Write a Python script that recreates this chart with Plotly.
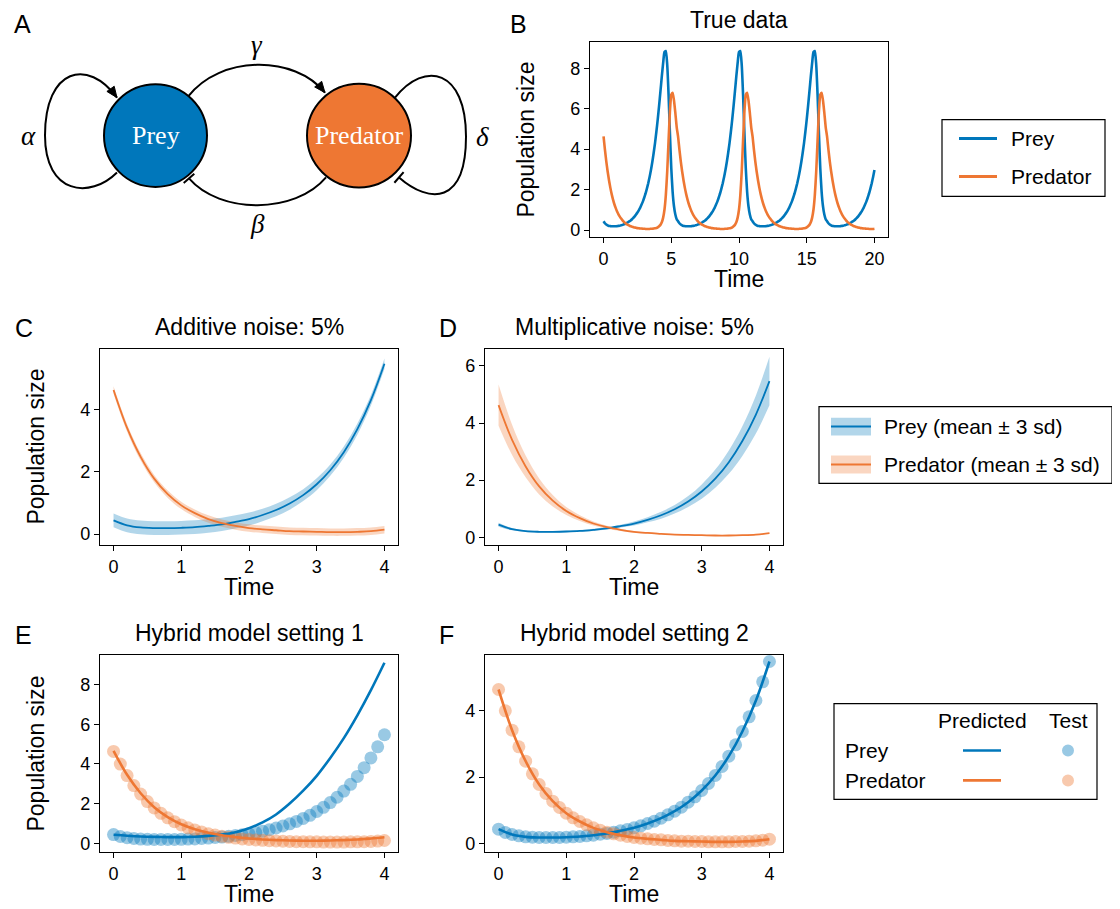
import plotly.graph_objects as go

# page body has an 8px margin: the figure is shifted so that reference pixels map 1:1
OFF = 8
W, H = 1120 - OFF, 909 - OFF
BLUE = "#0077BB"
ORANGE = "#EE7733"
BLUE_BAND = "rgba(0,119,187,0.30)"
ORANGE_BAND = "rgba(238,119,51,0.30)"
BLUE_DOT = "rgba(0,119,187,0.40)"
ORANGE_DOT = "rgba(238,119,51,0.40)"
FONT = "Liberation Sans, Arial, sans-serif"
SERIF = "Liberation Serif, DejaVu Serif, serif"

# ---------------- data ----------------
# Panel B: true data, t = 0 .. 20 step 0.1
time_b = [round(0.1 * i, 1) for i in range(201)]
prey_b = [
    0.44, 0.34, 0.28, 0.24, 0.21, 0.20, 0.19, 0.19, 0.19, 0.19, 0.20, 0.21, 0.22, 0.24, 0.26, 0.29, 0.31, 0.35, 0.39, 0.43,
    0.48, 0.54, 0.61, 0.68, 0.77, 0.87, 0.98, 1.10, 1.25, 1.41, 1.60, 1.81, 2.05, 2.32, 2.63, 2.97, 3.37, 3.81, 4.30, 4.86,
    5.47, 6.14, 6.85, 7.58, 8.26, 8.80, 8.85, 8.18, 6.70, 4.78, 3.07, 1.89, 1.18, 0.77, 0.54,
    0.44, 0.34, 0.28, 0.24, 0.21, 0.20, 0.19, 0.19, 0.19, 0.19, 0.20, 0.21, 0.22, 0.24, 0.26, 0.29, 0.31, 0.35, 0.39, 0.43,
    0.48, 0.54, 0.61, 0.68, 0.77, 0.87, 0.98, 1.10, 1.25, 1.41, 1.60, 1.81, 2.05, 2.32, 2.63, 2.97, 3.37, 3.81, 4.30, 4.86,
    5.47, 6.14, 6.85, 7.58, 8.26, 8.80, 8.85, 8.18, 6.70, 4.78, 3.07, 1.89, 1.18, 0.77, 0.54,
    0.44, 0.34, 0.28, 0.24, 0.21, 0.20, 0.19, 0.19, 0.19, 0.19, 0.20, 0.21, 0.22, 0.24, 0.26, 0.29, 0.31, 0.35, 0.39, 0.43,
    0.48, 0.54, 0.61, 0.68, 0.77, 0.87, 0.98, 1.10, 1.25, 1.41, 1.60, 1.81, 2.05, 2.32, 2.63, 2.97, 3.37, 3.81, 4.30, 4.86,
    5.47, 6.14, 6.85, 7.58, 8.26, 8.80, 8.85, 8.18, 6.70, 4.78, 3.07, 1.89, 1.18, 0.77, 0.54,
    0.44, 0.34, 0.28, 0.24, 0.21, 0.20, 0.19, 0.19, 0.19, 0.19, 0.20, 0.21, 0.22, 0.24, 0.26, 0.29, 0.31, 0.35, 0.39, 0.43,
    0.48, 0.54, 0.61, 0.68, 0.77, 0.87, 0.98, 1.10, 1.25, 1.41, 1.60, 1.81, 2.05, 2.32, 2.63, 2.97,
]
pred_b = [
    4.63, 3.99, 3.41, 2.91, 2.48, 2.10, 1.78, 1.51, 1.28, 1.09, 0.92, 0.78, 0.67, 0.57, 0.48, 0.41, 0.35, 0.30, 0.26, 0.22,
    0.19, 0.17, 0.15, 0.13, 0.12, 0.10, 0.09, 0.08, 0.08, 0.07, 0.07, 0.06, 0.06, 0.06, 0.06, 0.07, 0.07, 0.08, 0.09, 0.11,
    0.14, 0.19, 0.26, 0.39, 0.62, 1.02, 1.74, 2.89, 4.41, 5.86, 6.69, 6.79, 6.41, 5.79, 5.09,
    4.63, 3.99, 3.41, 2.91, 2.48, 2.10, 1.78, 1.51, 1.28, 1.09, 0.92, 0.78, 0.67, 0.57, 0.48, 0.41, 0.35, 0.30, 0.26, 0.22,
    0.19, 0.17, 0.15, 0.13, 0.12, 0.10, 0.09, 0.08, 0.08, 0.07, 0.07, 0.06, 0.06, 0.06, 0.06, 0.07, 0.07, 0.08, 0.09, 0.11,
    0.14, 0.19, 0.26, 0.39, 0.62, 1.02, 1.74, 2.89, 4.41, 5.86, 6.69, 6.79, 6.41, 5.79, 5.09,
    4.63, 3.99, 3.41, 2.91, 2.48, 2.10, 1.78, 1.51, 1.28, 1.09, 0.92, 0.78, 0.67, 0.57, 0.48, 0.41, 0.35, 0.30, 0.26, 0.22,
    0.19, 0.17, 0.15, 0.13, 0.12, 0.10, 0.09, 0.08, 0.08, 0.07, 0.07, 0.06, 0.06, 0.06, 0.06, 0.07, 0.07, 0.08, 0.09, 0.11,
    0.14, 0.19, 0.26, 0.39, 0.62, 1.02, 1.74, 2.89, 4.41, 5.86, 6.69, 6.79, 6.41, 5.79, 5.09,
    4.63, 3.99, 3.41, 2.91, 2.48, 2.10, 1.78, 1.51, 1.28, 1.09, 0.92, 0.78, 0.67, 0.57, 0.48, 0.41, 0.35, 0.30, 0.26, 0.22,
    0.19, 0.17, 0.15, 0.13, 0.12, 0.10, 0.09, 0.08, 0.08, 0.07, 0.07, 0.06, 0.06, 0.06, 0.06, 0.07,
]

# Panels C, D: mean curves on t = 0 .. 4 step 0.2
time_cd = [round(0.2 * i, 1) for i in range(21)]
prey_mean = [0.44, 0.28, 0.21, 0.19, 0.19, 0.20, 0.22, 0.26, 0.31, 0.39, 0.48,
             0.61, 0.77, 0.98, 1.25, 1.60, 2.05, 2.63, 3.37, 4.30, 5.47]
pred_mean = [4.63, 3.41, 2.48, 1.78, 1.28, 0.92, 0.67, 0.48, 0.35, 0.26, 0.19,
             0.15, 0.12, 0.09, 0.08, 0.07, 0.06, 0.06, 0.07, 0.09, 0.14]
# half widths of the +-3 sd bands
prey_3sd_add = [0.22, 0.22, 0.22, 0.22, 0.22, 0.22, 0.22, 0.22, 0.21, 0.21, 0.21,
                0.20, 0.20, 0.20, 0.19, 0.19, 0.18, 0.18, 0.18, 0.17, 0.17]
pred_3sd_add = [0.12, 0.12, 0.12, 0.12, 0.12, 0.12, 0.12, 0.12, 0.12, 0.12, 0.12,
                0.12, 0.12, 0.12, 0.12, 0.12, 0.12, 0.12, 0.12, 0.12, 0.12]
prey_3sd_mul = [0.07, 0.04, 0.03, 0.03, 0.03, 0.03, 0.03, 0.04, 0.04, 0.05, 0.07,
                0.09, 0.12, 0.15, 0.19, 0.25, 0.32, 0.41, 0.52, 0.67, 0.85]
pred_3sd_mul = [0.72, 0.53, 0.38, 0.28, 0.20, 0.14, 0.10, 0.07, 0.05, 0.04, 0.03,
                0.02, 0.02, 0.01, 0.01, 0.01, 0.01, 0.01, 0.01, 0.01, 0.02]

# Panels E, F: test points (t = 0 .. 4 step 0.1) and predictions (step 0.2)
time_test = [round(0.1 * i, 1) for i in range(41)]
prey_test = [0.44, 0.34, 0.28, 0.24, 0.21, 0.20, 0.19, 0.19, 0.19, 0.19, 0.20,
             0.21, 0.22, 0.24, 0.26, 0.29, 0.31, 0.35, 0.39, 0.43, 0.48,
             0.54, 0.61, 0.68, 0.77, 0.87, 0.98, 1.10, 1.25, 1.41, 1.60,
             1.81, 2.05, 2.32, 2.63, 2.97, 3.37, 3.81, 4.30, 4.86, 5.47]
pred_test = [4.63, 3.99, 3.41, 2.91, 2.48, 2.10, 1.78, 1.51, 1.28, 1.09, 0.92,
             0.78, 0.67, 0.57, 0.48, 0.41, 0.35, 0.30, 0.26, 0.22, 0.19,
             0.17, 0.15, 0.13, 0.12, 0.10, 0.09, 0.08, 0.08, 0.07, 0.07,
             0.06, 0.06, 0.06, 0.06, 0.07, 0.07, 0.08, 0.09, 0.11, 0.14]
time_pred = [round(0.2 * i, 1) for i in range(21)]
prey_pred_e = [0.43, 0.38, 0.34, 0.32, 0.31, 0.31, 0.33, 0.37, 0.44, 0.56, 0.76,
               1.05, 1.45, 2.00, 2.65, 3.40, 4.30, 5.30, 6.45, 7.72, 9.10]
pred_pred_e = [4.66, 3.45, 2.52, 1.82, 1.32, 0.96, 0.71, 0.53, 0.40, 0.31, 0.24,
               0.19, 0.16, 0.14, 0.13, 0.13, 0.14, 0.16, 0.19, 0.24, 0.30]
prey_pred_f = [0.44, 0.28, 0.21, 0.19, 0.19, 0.20, 0.22, 0.26, 0.31, 0.39, 0.48,
               0.61, 0.77, 0.98, 1.25, 1.60, 2.05, 2.63, 3.37, 4.30, 5.47]
pred_pred_f = [4.63, 3.41, 2.48, 1.78, 1.28, 0.92, 0.67, 0.48, 0.35, 0.26, 0.19,
               0.15, 0.12, 0.09, 0.08, 0.07, 0.06, 0.06, 0.07, 0.09, 0.14]

# ---------------- helpers ----------------
def fx(p):
    return (p - OFF) / W


def fy(p):
    return 1 - (p - OFF) / H


fig = go.Figure()

# Panel B
fig.add_trace(go.Scatter(x=time_b, y=prey_b, mode="lines", line=dict(color=BLUE, width=2.6, shape="spline", smoothing=0.5),
                         xaxis="x", yaxis="y", showlegend=False))
fig.add_trace(go.Scatter(x=time_b, y=pred_b, mode="lines", line=dict(color=ORANGE, width=2.6, shape="spline", smoothing=0.5),
                         xaxis="x", yaxis="y", showlegend=False))


def band(xa, ya, t, mean, hw, fillcol):
    lo = [m - h for m, h in zip(mean, hw)]
    hi = [m + h for m, h in zip(mean, hw)]
    fig.add_trace(go.Scatter(x=t, y=lo, mode="lines", line=dict(width=0, shape="spline"),
                             xaxis=xa, yaxis=ya, showlegend=False, hoverinfo="skip"))
    fig.add_trace(go.Scatter(x=t, y=hi, mode="lines", line=dict(width=0, shape="spline"), fill="tonexty",
                             fillcolor=fillcol, xaxis=xa, yaxis=ya, showlegend=False, hoverinfo="skip"))


def line(xa, ya, t, y, col, w):
    fig.add_trace(go.Scatter(x=t, y=y, mode="lines", line=dict(color=col, width=w, shape="spline"),
                             xaxis=xa, yaxis=ya, showlegend=False))


# Panel C (additive)
band("x2", "y2", time_cd, prey_mean, prey_3sd_add, BLUE_BAND)
band("x2", "y2", time_cd, pred_mean, pred_3sd_add, ORANGE_BAND)
line("x2", "y2", time_cd, prey_mean, BLUE, 1.8)
line("x2", "y2", time_cd, pred_mean, ORANGE, 1.8)
# Panel D (multiplicative)
band("x3", "y3", time_cd, prey_mean, prey_3sd_mul, BLUE_BAND)
band("x3", "y3", time_cd, pred_mean, pred_3sd_mul, ORANGE_BAND)
line("x3", "y3", time_cd, prey_mean, BLUE, 1.8)
line("x3", "y3", time_cd, pred_mean, ORANGE, 1.8)


def dots(xa, ya, t, y, col):
    fig.add_trace(go.Scatter(x=t, y=y, mode="markers", marker=dict(color=col, size=13, line=dict(width=0)),
                             xaxis=xa, yaxis=ya, showlegend=False))


# Panel E
dots("x4", "y4", time_test, prey_test, BLUE_DOT)
dots("x4", "y4", time_test, pred_test, ORANGE_DOT)
line("x4", "y4", time_pred, prey_pred_e, BLUE, 2.6)
line("x4", "y4", time_pred, pred_pred_e, ORANGE, 2.6)
# Panel F
dots("x5", "y5", time_test, prey_test, BLUE_DOT)
dots("x5", "y5", time_test, pred_test, ORANGE_DOT)
line("x5", "y5", time_pred, prey_pred_f, BLUE, 2.6)
line("x5", "y5", time_pred, pred_pred_f, ORANGE, 2.6)

# ---------------- axes ----------------
panels = {
    "": (590, 888, 42, 238, [-1, 21], [-0.35, 9.3], [0, 5, 10, 15, 20], [0, 2, 4, 6, 8]),
    "2": (100, 398, 350, 547, [-0.2, 4.2], [-0.36, 5.95], [0, 1, 2, 3, 4], [0, 2, 4]),
    "3": (485, 783, 350, 547, [-0.2, 4.2], [-0.28, 6.6], [0, 1, 2, 3, 4], [0, 2, 4, 6]),
    "4": (100, 398, 657, 855, [-0.2, 4.2], [-0.45, 9.5], [0, 1, 2, 3, 4], [0, 2, 4, 6, 8]),
    "5": (485, 783, 657, 855, [-0.2, 4.2], [-0.25, 5.67], [0, 1, 2, 3, 4], [0, 2, 4]),
}

layout = dict(width=W, height=H, margin=dict(l=0, r=0, t=0, b=0), autosize=False,
              paper_bgcolor="white", plot_bgcolor="white", showlegend=False,
              font=dict(family=FONT, color="black"))


def axstyle(**kw):
    d = dict(showline=True, mirror=True, linecolor="black", linewidth=1.2, ticks="outside", ticklen=5,
             tickwidth=1.2, tickcolor="black", showgrid=False, zeroline=False,
             tickfont=dict(family=FONT, size=18, color="black"), fixedrange=True)
    d.update(kw)
    return d


for k, (x0, x1, y0, y1, xr, yr, xt, yt) in panels.items():
    layout["xaxis" + k] = axstyle(domain=[fx(x0), fx(x1)], range=xr, tickvals=xt, anchor="y" + k)
    layout["yaxis" + k] = axstyle(domain=[fy(y1), fy(y0)], range=yr, tickvals=yt, anchor="x" + k)

# hidden axis for the diagram (1 unit = 1 pixel, y downward)
layout["xaxis6"] = dict(domain=[0, fx(515)], range=[OFF, 515], visible=False, fixedrange=True, anchor="y6")
layout["yaxis6"] = dict(domain=[fy(260), 1], range=[260, OFF], visible=False, fixedrange=True, anchor="x6")

fig.update_layout(**layout)

annotations = []
shapes = []


def txt(x, y, s, size, xanchor="center", yanchor="middle", angle=0, family=FONT, color="black", xref="paper", yref="paper"):
    annotations.append(dict(x=x, y=y, xref=xref, yref=yref, text=s, showarrow=False, xanchor=xanchor,
                            yanchor=yanchor, textangle=angle, font=dict(family=family, size=size, color=color)))


# titles and axis labels
titles = {"": "True data", "2": "Additive noise: 5%", "3": "Multiplicative noise: 5%",
          "4": "Hybrid model setting 1", "5": "Hybrid model setting 2"}
for k, (x0, x1, y0, y1, xr, yr, xt, yt) in panels.items():
    cx = (x0 + x1) / 2
    txt(fx(cx), fy(y0 - 7), titles[k], 23, yanchor="bottom")
    txt(fx(cx), fy(y1 + 42), "Time", 23)

txt(fx(526), fy(140), "Population size", 23, angle=-90)
txt(fx(36), fy(448), "Population size", 23, angle=-90)
txt(fx(36), fy(756), "Population size", 23, angle=-90)

# panel letters
for lab, x, y in [("A", 12, 24), ("B", 508, 24), ("C", 13, 329), ("D", 437, 329), ("E", 13, 637), ("F", 437, 637)]:
    txt(fx(x), fy(y), lab, 25, xanchor="left")

# ---------------- diagram (panel A) ----------------
def dpath(p, width=2, fill=None):
    d = dict(type="path", xref="x6", yref="y6", path=p, line=dict(color="black", width=width))
    if fill:
        d["fillcolor"] = fill
    shapes.append(d)


# arcs
dpath("M188,97 C220,55 295,55 325,93")            # gamma
dpath("M326,178 C295,215 220,215 189,179")         # beta
dpath("M117,173 C90,200 45,195 45,136 C45,68 88,58 117,98")   # alpha
dpath("M395,98 C425,60 466,70 466,137 C466,205 430,205 399,178")  # delta
# circles
shapes.append(dict(type="circle", xref="x6", yref="y6", x0=104, x1=207, y0=84.5, y1=187.5,
                   fillcolor=BLUE, line=dict(color="black", width=2)))
shapes.append(dict(type="circle", xref="x6", yref="y6", x0=307, x1=411, y0=84, y1=188,
                   fillcolor=ORANGE, line=dict(color="black", width=2)))
# arrow heads
dpath("M325,93 L314.7,87.2 L321.7,81.6 Z", width=1, fill="black")
dpath("M117,98 L106.9,91.7 L114.2,86.5 Z", width=1, fill="black")
# inhibition bars
dpath("M183.7,183.6 L194.3,174.4", width=2)
dpath("M394.4,183.3 L403.6,172.7", width=2)

txt(155.5, 136, "Prey", 26, family=SERIF, color="white", xref="x6", yref="y6")
txt(359, 136, "Predator", 26, family=SERIF, color="white", xref="x6", yref="y6")
txt(28, 136, "<i>α</i>", 27, family=SERIF, xref="x6", yref="y6")
txt(257, 45, "<i>γ</i>", 27, family=SERIF, xref="x6", yref="y6")
txt(257, 225, "<i>β</i>", 27, family=SERIF, xref="x6", yref="y6")
txt(482, 137, "<i>δ</i>", 27, family=SERIF, xref="x6", yref="y6")

# ---------------- legends ----------------
def prect(x0, y0, x1, y1, line_col="black", fill=None, lw=1.2):
    d = dict(type="rect", xref="paper", yref="paper", x0=fx(x0), x1=fx(x1), y0=fy(y1), y1=fy(y0),
             line=dict(color=line_col, width=lw))
    if fill:
        d["fillcolor"] = fill
        d["line"] = dict(width=0)
    shapes.append(d)


def pline(x0, y0, x1, y1, col, w):
    shapes.append(dict(type="line", xref="paper", yref="paper", x0=fx(x0), x1=fx(x1), y0=fy(y0), y1=fy(y1),
                       line=dict(color=col, width=w)))


# legend B
prect(942, 120, 1105, 197)
pline(959, 139, 997, 139, BLUE, 3)
pline(959, 177, 997, 177, ORANGE, 3)
txt(fx(1009), fy(139), "Prey", 21, xanchor="left")
txt(fx(1009), fy(177), "Predator", 21, xanchor="left")

# legend C/D
prect(819, 408, 1112, 485)
prect(831, 419, 871, 437, fill=BLUE_BAND)
prect(831, 457, 871, 475, fill=ORANGE_BAND)
pline(831, 428, 871, 428, BLUE, 2)
pline(831, 466, 871, 466, ORANGE, 2)
txt(fx(882), fy(428), "Prey (mean ± 3 sd)", 21, xanchor="left")
txt(fx(882), fy(466), "Predator (mean ± 3 sd)", 21, xanchor="left")

# legend E/F
prect(834, 706, 1097, 802)
txt(fx(982), fy(723), "Predicted", 21)
txt(fx(1068), fy(723), "Test", 21)
txt(fx(843), fy(753), "Prey", 21, xanchor="left")
txt(fx(843), fy(783), "Predator", 21, xanchor="left")
pline(963, 753, 1001, 753, BLUE, 2.6)
pline(963, 783, 1001, 783, ORANGE, 2.6)
for yy, col in [(753, BLUE_DOT), (783, ORANGE_DOT)]:
    shapes.append(dict(type="circle", xref="paper", yref="paper", x0=fx(1062), x1=fx(1074),
                       y0=fy(yy + 6), y1=fy(yy - 6), fillcolor=col, line=dict(width=0)))

fig.update_layout(annotations=annotations, shapes=shapes)
fig.write_html("out.html")
